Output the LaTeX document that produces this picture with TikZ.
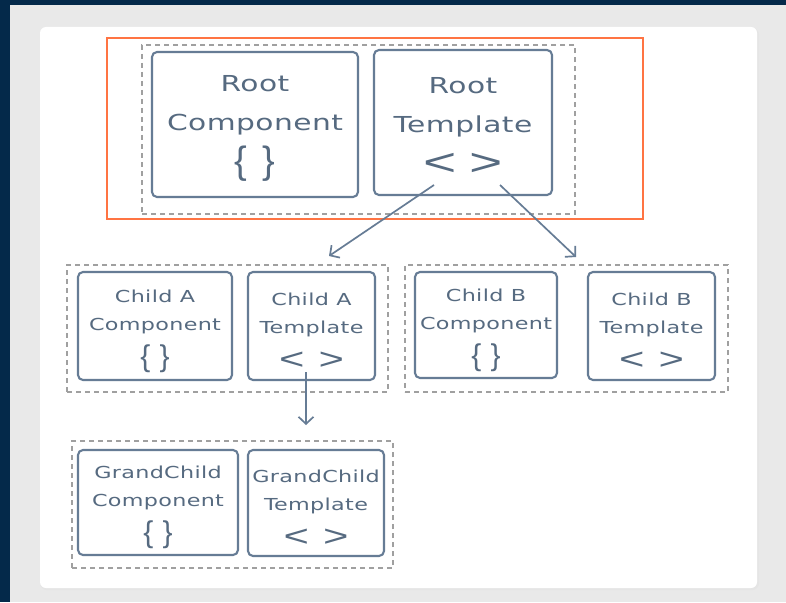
\documentclass[tikz,border=0pt]{standalone}
\usepackage{fontspec}
\usepackage{graphicx}
\setmainfont{DejaVu Sans}
\newfontfamily\handfont[FakeStretch=1.35,LetterSpace=2]{DejaVu Sans}
\newfontfamily\symfamily{Liberation Sans}
\usetikzlibrary{arrows.meta}
\definecolor{navy}{HTML}{04294A}
\definecolor{bggray}{HTML}{E9E9E9}
\definecolor{skstroke}{HTML}{667C95}
\definecolor{sktext}{HTML}{566A80}
\definecolor{dashgray}{HTML}{A0A0A0}
\definecolor{hlorange}{HTML}{FF7443}
% symbol lines: lowered without changing the line box
\newcommand\bigbraces{\raisebox{-8pt}[\height][\depth]{\symfamily\fontsize{38}{38}\selectfont\{\hspace{15pt}\}}}
\newcommand\bigangles{\raisebox{-8pt}[\height][\depth]{\symfamily\fontsize{38}{38}\selectfont\scalebox{1.5}[1]{<}\hspace{12pt}\scalebox{1.5}[1]{>}}}
\newcommand\smallbraces{\raisebox{-10pt}[\height][\depth]{\symfamily\fontsize{30}{30}\selectfont\{\hspace{9pt}\}}}
\newcommand\smallangles{\raisebox{-10pt}[\height][\depth]{\symfamily\fontsize{30}{30}\selectfont\scalebox{1.45}[1]{<}\hspace{14pt}\scalebox{1.45}[1]{>}}}
\tikzset{
  sk/.style={draw=skstroke, line width=2.1pt, rounded corners=5pt, align=center,
    text=sktext, inner sep=0pt},
  bigtext/.style={font=\handfont\fontsize{22}{39}\selectfont},
  smalltext/.style={font=\handfont\fontsize{16.5}{28}\selectfont},
  group/.style={draw=dashgray, line width=1.2pt, dash pattern=on 5pt off 4pt, inner sep=0pt},
  hl/.style={draw=hlorange, line width=1.6pt, inner sep=0pt},
  conn/.style={draw=skstroke, line width=1.7pt, -{Straight Barb[length=7pt,width=15pt]}}
}
\begin{document}
\begin{tikzpicture}[x=1pt,y=-1pt]
\useasboundingbox (0,0) rectangle (786,602);
% background
\fill[bggray] (0,0) rectangle (786,602);
\fill[navy] (0,0) rectangle (786,5);
\fill[navy] (0,0) rectangle (10,602);
% card with shadow
\fill[black!10, rounded corners=7pt] (40,28) rectangle (759,590);
\fill[white, rounded corners=6pt] (40,27) rectangle (757,588);

% group containers
\node[group, minimum width=433pt, minimum height=169pt] (g1) at (358.5,129.5) {};
\node[group, minimum width=321pt, minimum height=127pt] (g2) at (227.5,328.5) {};
\node[group, minimum width=323pt, minimum height=127pt] (g3) at (566.5,328.5) {};
\node[group, minimum width=321pt, minimum height=127pt] (g4) at (232.5,504.5) {};

% root
\node[sk, bigtext, minimum width=206pt, minimum height=145pt] (rc) at (255,124.5)
  {Root\\Component\\[-4pt]\bigbraces};
\node[sk, bigtext, minimum width=178pt, minimum height=145pt] (rt) at (463,122.5)
  {Root\\Template\\[-4pt]\bigangles};

% child A
\node[sk, smalltext, minimum width=154pt, minimum height=108pt] (ac) at (155,326)
  {Child A\\Component\\[-2pt]\smallbraces};
\node[sk, smalltext, minimum width=127pt, minimum height=108pt] (at) at (311.5,326)
  {Child A\\Template\\[-2pt]\smallangles};

% child B
\node[sk, smalltext, minimum width=142pt, minimum height=106pt] (bc) at (486,325)
  {Child B\\Component\\[-2pt]\smallbraces};
\node[sk, smalltext, minimum width=127pt, minimum height=108pt] (bt) at (651.5,326)
  {Child B\\Template\\[-2pt]\smallangles};

% grandchild
\node[sk, smalltext, minimum width=160pt, minimum height=105pt] (gc) at (158,502.5)
  {GrandChild\\Component\\[-2pt]\smallbraces};
\node[sk, smalltext, minimum width=136pt, minimum height=106pt] (gt) at (316,503)
  {GrandChild\\Template\\[-2pt]\smallangles};

% highlight
\node[hl, minimum width=536pt, minimum height=181pt] (hlbox) at (375,128.5) {};

% connectors
\coordinate (a1s) at (434,185);
\coordinate (a1e) at (329,256);
\coordinate (a2s) at (500,185);
\coordinate (a2e) at (576,257);
\coordinate (a3s) at (306,372);
\coordinate (a3e) at (306,425);
\draw[conn] (a1s) -- (a1e);
\draw[conn] (a2s) -- (a2e);
\draw[conn] (a3s) -- (a3e);
\end{tikzpicture}
\end{document}
